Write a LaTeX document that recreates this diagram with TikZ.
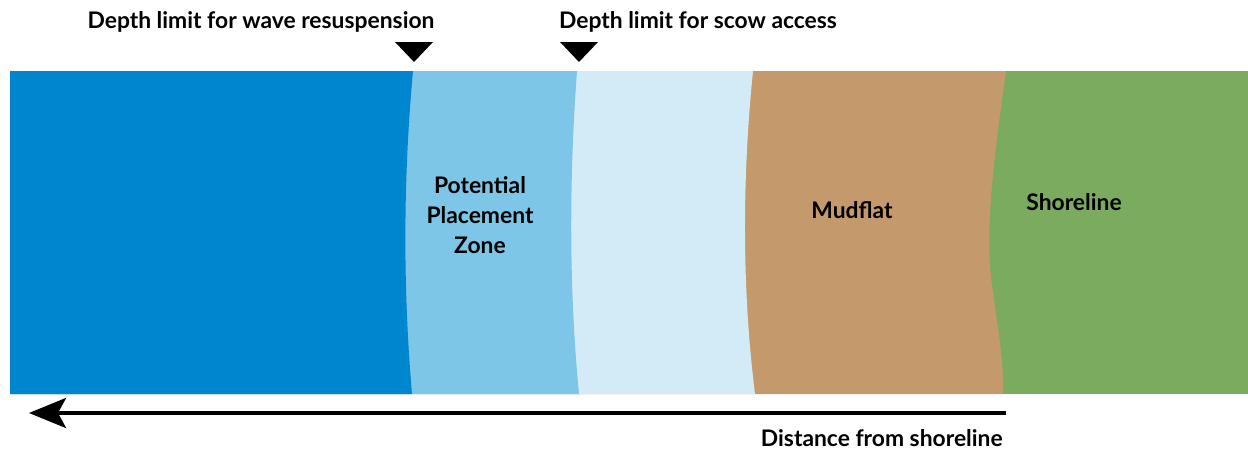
\documentclass[tikz,border=0pt]{standalone}
\usepackage{fontspec}
\setmainfont{Lato}
\usetikzlibrary{arrows.meta}

\definecolor{deepwater}{HTML}{0085CF}
\definecolor{placement}{HTML}{7DC6E7}
\definecolor{shallow}{HTML}{D3EAF7}
\definecolor{mud}{HTML}{C49A6C}
\definecolor{shore}{HTML}{7AAB5E}

\tikzset{
    label/.style={font=\fontsize{13pt}{17pt}\selectfont\bfseries, inner sep=0pt, align=center},
}

\begin{document}
\begin{tikzpicture}[x=0.02cm, y=-0.02cm]
                    \useasboundingbox (0,0) rectangle (1248,450);
                    % Zones
                    \fill[shore] (10,71) rectangle (1248,394);
                    \fill[mud] (10,71) -- (1006,71) .. controls (995,150) and (984,230) .. (992,285)
                        .. controls (998,330) and (1004,360) .. (1003,394) -- (10,394) -- cycle;
                    \fill[shallow] (10,71) -- (753,71) .. controls (742,180) and (742,290) .. (755,394) -- (10,394) -- cycle;
                    \fill[placement] (10,71) -- (577,71) .. controls (569,180) and (569,290) .. (579,394) -- (10,394) -- cycle;
                    \fill[deepwater] (10,71) -- (413,71) .. controls (403,180) and (403,290) .. (412,394) -- (10,394) -- cycle;
                    % Markers
                    \coordinate (wavemark) at (414,62);
                    \coordinate (scowmark) at (579,62);
                    \fill (wavemark) -- ++(-19,-20) -- ++(38,0) -- cycle;
                    \fill (scowmark) -- ++(-19,-20) -- ++(38,0) -- cycle;
                    % Nodes
                    \node[label] (wave) at (261,22) {Depth limit for wave resuspension};
                    \node[label] (scow) at (698,22) {Depth limit for scow access};
                    \node[label] (zone) at (480,215) {Potential\\Placement\\Zone};
                    \node[label] (mudflat) at (852,210) {Mudflat};
                    \node[label] (shoreline) at (1074,202) {Shoreline};
                    \node[label, anchor=east] (distance) at (1003,438) {Distance from shoreline};
                    \coordinate (shoreend) at (1006,413);
                    \coordinate (seaend) at (29,413);
                    % Edges
                    \draw[line width=0.08cm, -{Stealth[length=0.74cm, width=0.6cm, inset=0.16cm]}] (shoreend) -- (seaend);
                \end{tikzpicture}
\end{document}
